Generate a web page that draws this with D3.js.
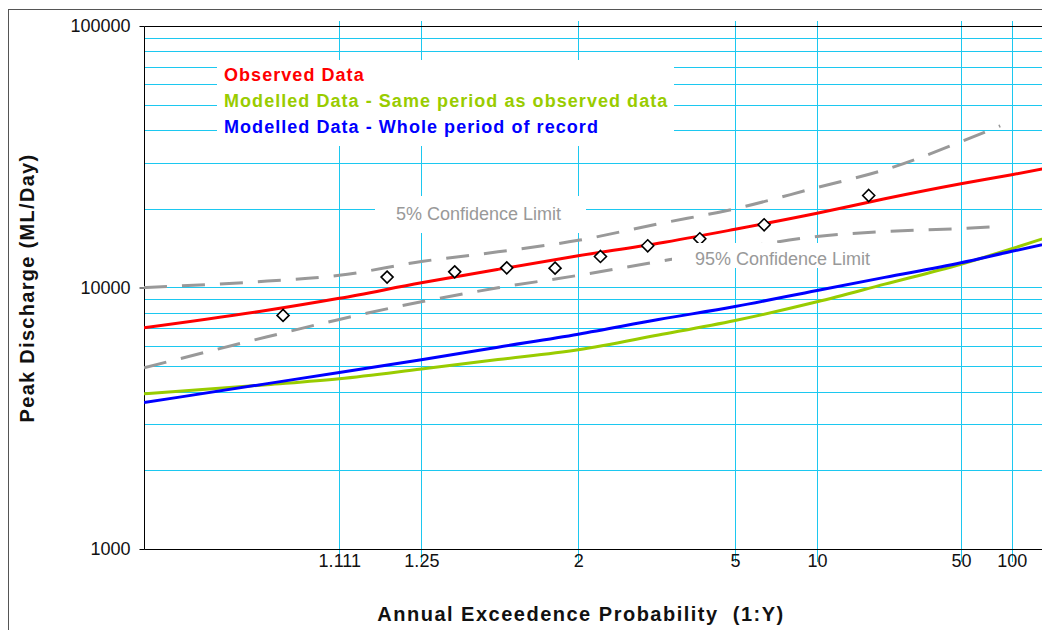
<!DOCTYPE html>
<html>
<head>
<meta charset="utf-8">
<script src="https://cdn.jsdelivr.net/npm/d3@7"></script>
<style>
  body { margin: 0; background: #fff; }
  text { font-family: Arial, "Liberation Sans", sans-serif; }
</style>
</head>
<body>
<div id="chart"></div>
<script>
// Plot frame (pixels)
var margin = {top: 26, left: 144, right: 1042, bottom: 549},
    width = 1042, height = 630;

// Return periods (1:Y) used for the fitted curves
var curveY = [1.01, 1.05, 1.111, 1.25, 1.5, 2, 3, 5, 10, 20, 50, 100, 200];
var observedFit = [7010, 8180, 9090, 10420, 11730, 13220, 14760, 16700, 19220, 21840, 24920, 26980, 29200];
var modelledSame = [3920, 4250, 4480, 4880, 5300, 5780, 6580, 7480, 8820, 10300, 12270, 14060, 16050];
var modelledWhole = [3630, 4290, 4730, 5290, 5910, 6630, 7540, 8460, 9740, 10930, 12430, 13750, 15020];

// Confidence limits
var limitY = [1.01, 1.05, 1.111, 1.25, 1.5, 2, 3, 5, 10, 20, 50, 85];
var upper5 = [10000, 10580, 11130, 12570, 13690, 15150, 17520, 20000, 24120, 28190, 36080, 41530];
var lower95 = [4930, 6480, 7550, 8820, 9970, 11130, 12570, 14060, 15670, 16370, 16810, 17110];

// Observed annual peaks (plotting positions)
var obsY = [1.06, 1.18, 1.34, 1.54, 1.82, 2.21, 2.82, 3.89, 6.28, 16.8];
var obsQ = [7820, 10960, 11480, 11890, 11860, 13140, 14440, 15360, 17370, 22480];

// Axis ticks
var xTickY = [1.111, 1.25, 2, 5, 10, 50, 100];
var xTickLabels = ["1.111", "1.25", "2", "5", "10", "50", "100"];
var yTicks = [1000, 10000, 100000];
var xDomainY = [1.01, 156];

var legendItems = [
  {label: "Observed Data", color: "#ff0000"},
  {label: "Modelled Data - Same period as observed data", color: "#99cc00"},
  {label: "Modelled Data - Whole period of record", color: "#0000ff"}
];

/**
 * Inverse standard normal CDF (Acklam)
 * @param {float} p - probability
 * @returns {float} z
 */
function probit(p) {
  var a = [-3.969683028665376e+01, 2.209460984245205e+02, -2.759285104469687e+02, 1.383577518672690e+02, -3.066479806614716e+01, 2.506628277459239e+00],
      b = [-5.447609879822406e+01, 1.615858368580409e+02, -1.556989798598866e+02, 6.680131188771972e+01, -1.328068155288572e+01],
      c = [-7.784894002430293e-03, -3.223964580411365e-01, -2.400758277161838e+00, -2.549732539343734e+00, 4.374664141464968e+00, 2.938163982698783e+00],
      d = [7.784695709041462e-03, 3.224671290700398e-01, 2.445134137142996e+00, 3.754408661907416e+00],
      pl = 0.02425, q, r;
  if (p < pl) {
    q = Math.sqrt(-2 * Math.log(p));
    return (((((c[0]*q+c[1])*q+c[2])*q+c[3])*q+c[4])*q+c[5]) / ((((d[0]*q+d[1])*q+d[2])*q+d[3])*q+1);
  }
  if (p > 1 - pl) {
    q = Math.sqrt(-2 * Math.log(1 - p));
    return -(((((c[0]*q+c[1])*q+c[2])*q+c[3])*q+c[4])*q+c[5]) / ((((d[0]*q+d[1])*q+d[2])*q+d[3])*q+1);
  }
  q = p - 0.5; r = q * q;
  return (((((a[0]*r+a[1])*r+a[2])*r+a[3])*r+a[4])*r+a[5])*q / (((((b[0]*r+b[1])*r+b[2])*r+b[3])*r+b[4])*r+1);
}
// 1:Y -> normal reduced variate
function zOf(Y) { return probit(1 - 1 / Y); }

var xLin = d3.scaleLinear().domain(xDomainY.map(zOf)).range([margin.left, margin.right]);
var x = function(Y) { return xLin(zOf(Y)); };
var y = d3.scaleLog().domain([1000, 100000]).range([margin.bottom, margin.top]);

var svg = d3.select("#chart").append("svg")
    .attr("width", width)
    .attr("height", height);

// outer chart border
svg.append("rect")
    .attr("x", 8.5).attr("y", 9.5)
    .attr("width", 1100).attr("height", 700)
    .attr("fill", "none").attr("stroke", "#555").attr("stroke-width", 1);

svg.append("clipPath").attr("id", "plotClip")
  .append("rect")
    .attr("x", margin.left).attr("y", margin.top)
    .attr("width", margin.right - margin.left).attr("height", margin.bottom - margin.top);

// Horizontal grid (every 1..9 x decade)
var gridColor = "#1cc8f0";
svg.append("g").selectAll("line")
    .data(y.ticks().filter(function(d) { return d > 1000 && d < 100000; }))
    .enter().append("line")
    .attr("x1", margin.left).attr("x2", margin.right)
    .attr("y1", function(d) { return Math.round(y(d)) + 0.5; })
    .attr("y2", function(d) { return Math.round(y(d)) + 0.5; })
    .attr("stroke", gridColor).attr("stroke-width", 1);

// Vertical grid, slightly past the plot edges
svg.append("g").selectAll("line")
    .data(xTickY)
    .enter().append("line")
    .attr("x1", function(d) { return Math.round(x(d)) + 0.5; })
    .attr("x2", function(d) { return Math.round(x(d)) + 0.5; })
    .attr("y1", margin.top - 5).attr("y2", margin.bottom + 13)
    .attr("stroke", gridColor).attr("stroke-width", 1);

// Axes
var yAxis = d3.axisLeft(y).tickValues(yTicks).tickSize(5).tickPadding(9)
    .tickFormat(d3.format("d"));
var gy = svg.append("g").attr("transform", "translate(" + (margin.left + 0.5) + ",0)").call(yAxis);
gy.select(".domain").remove();
gy.selectAll("line").attr("stroke", "#000");
gy.selectAll("text").attr("font-size", 18).attr("fill", "#111").attr("dy", "0.33em");

var xAxis = d3.axisBottom(xLin).tickValues(xTickY.map(zOf)).tickSize(0).tickPadding(5)
    .tickFormat(function(d, i) { return xTickLabels[i]; });
var gx = svg.append("g").attr("transform", "translate(0," + margin.bottom + ")").call(xAxis);
gx.select(".domain").remove();
gx.selectAll("text").attr("font-size", 18).attr("fill", "#111");

// frame lines: left, bottom, top
svg.append("path")
    .attr("d", "M" + margin.right + "," + (margin.top + 0.5) + "H" + (margin.left + 0.5) +
               "V" + (margin.bottom + 0.5) + "H" + margin.right)
    .attr("fill", "none").attr("stroke", "#000").attr("stroke-width", 1);

// Series
var plot = svg.append("g").attr("clip-path", "url(#plotClip)");
function seriesLine(xs) {
  return d3.line()
    .x(function(d, i) { return x(xs[i]); })
    .y(function(d) { return y(d); })
    .curve(d3.curveMonotoneX);
}

plot.append("path").datum(upper5)
    .attr("d", seriesLine(limitY))
    .attr("fill", "none").attr("stroke", "#999").attr("stroke-width", 3)
    .attr("stroke-dasharray", "23,15");
plot.append("path").datum(lower95)
    .attr("d", seriesLine(limitY))
    .attr("fill", "none").attr("stroke", "#999").attr("stroke-width", 3)
    .attr("stroke-dasharray", "23,15");

plot.append("path").datum(modelledSame)
    .attr("d", seriesLine(curveY))
    .attr("fill", "none").attr("stroke", legendItems[1].color).attr("stroke-width", 3);
plot.append("path").datum(modelledWhole)
    .attr("d", seriesLine(curveY))
    .attr("fill", "none").attr("stroke", legendItems[2].color).attr("stroke-width", 3);
plot.append("path").datum(observedFit)
    .attr("d", seriesLine(curveY))
    .attr("fill", "none").attr("stroke", legendItems[0].color).attr("stroke-width", 3);

// Observed peaks as diamonds
plot.selectAll(".obs")
    .data(obsQ)
    .enter().append("path")
    .attr("class", "obs")
    .attr("d", "M0,-6L6,0L0,6L-6,0Z")
    .attr("transform", function(d, i) { return "translate(" + x(obsY[i]) + "," + y(d) + ")"; })
    .attr("fill", "#fff").attr("stroke", "#000").attr("stroke-width", 1.6);

// Legend (white box over the grid)
svg.append("rect")
    .attr("x", 217).attr("y", 60).attr("width", 457).attr("height", 86)
    .attr("fill", "#fff");
svg.append("g").selectAll("text")
    .data(legendItems)
    .enter().append("text")
    .attr("x", 224)
    .attr("y", function(d, i) { return 81 + i * 26; })
    .attr("font-size", 18).attr("font-weight", "bold")
    .attr("letter-spacing", "1.05px")
    .attr("fill", function(d) { return d.color; })
    .text(function(d) { return d.label; });

// Confidence limit labels
var limitLabels = [
  {text: "5% Confidence Limit", box: [375, 196, 211, 37], tx: 396, ty: 220},
  {text: "95% Confidence Limit", box: [672, 243, 225, 25], tx: 695, ty: 265}
];
limitLabels.forEach(function(l) {
  svg.append("rect")
      .attr("x", l.box[0]).attr("y", l.box[1])
      .attr("width", l.box[2]).attr("height", l.box[3])
      .attr("fill", "#fff");
  svg.append("text")
      .attr("x", l.tx).attr("y", l.ty)
      .attr("font-size", 18).attr("fill", "#999")
      .text(l.text);
});

// Axis titles
svg.append("text")
    .attr("transform", "translate(34,288) rotate(-90)")
    .attr("text-anchor", "middle")
    .attr("font-size", 20).attr("font-weight", "bold")
    .attr("letter-spacing", "1.3px")
    .attr("fill", "#111")
    .text("Peak Discharge (ML/Day)");

svg.append("text")
    .attr("x", 581).attr("y", 621)
    .attr("text-anchor", "middle")
    .attr("font-size", 20).attr("font-weight", "bold")
    .attr("letter-spacing", "1.5px")
    .style("white-space", "pre")
    .attr("fill", "#111")
    .text("Annual Exceedence Probability  (1:Y)");
</script>
</body>
</html>
